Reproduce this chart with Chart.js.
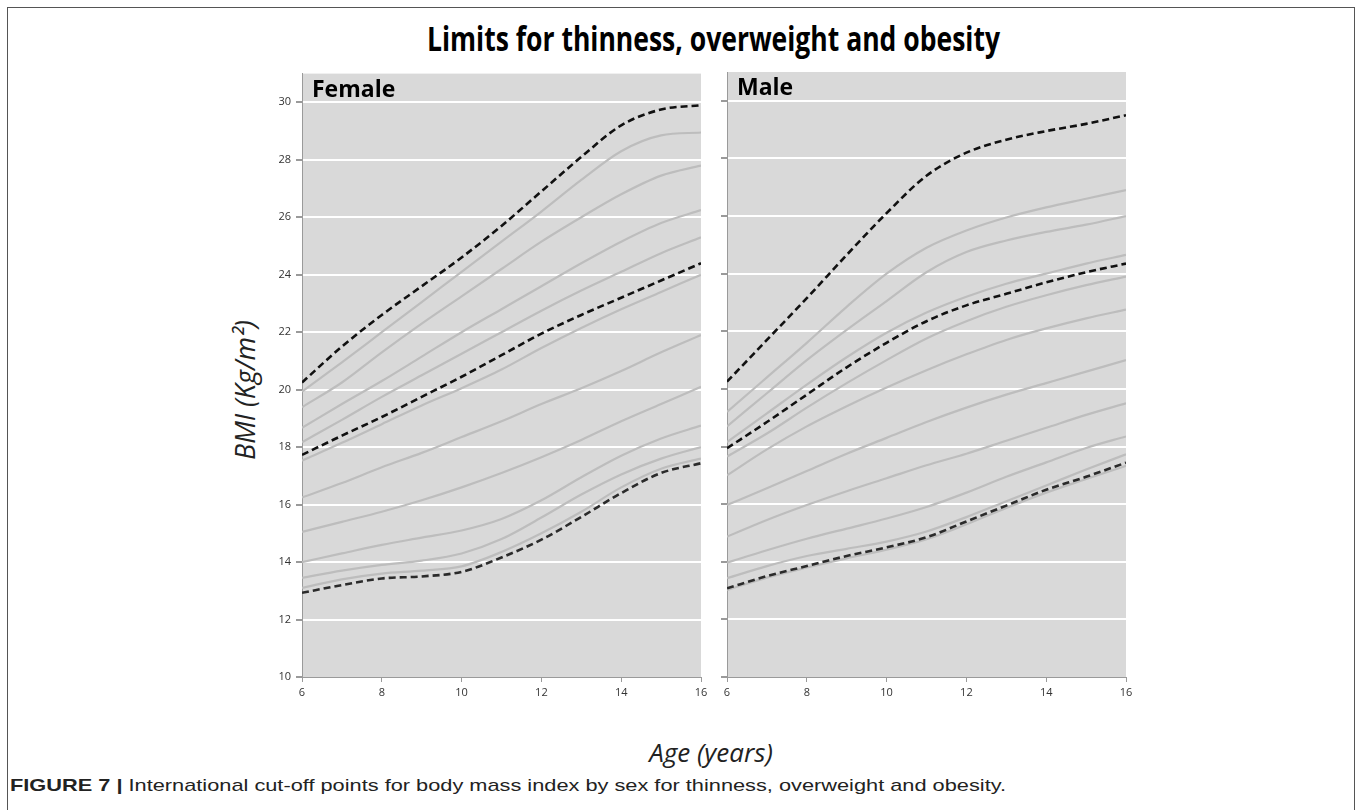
<!DOCTYPE html>
<html>
<head>
<meta charset="utf-8">
<script src="https://cdn.jsdelivr.net/npm/chart.js@4.4.1/dist/chart.umd.min.js"></script>
<style>
  html, body { margin: 0; padding: 0; background: #fff; }
  body { width: 1362px; height: 810px; position: relative; overflow: hidden; font-family: "Open Sans", sans-serif; }
  .frame { position: absolute; left: 7px; top: 7px; width: 1346px; height: 820px; border: 1.5px solid #555; }
  .fit { position: absolute; white-space: nowrap; }
  #title { top: 16px; font-weight: 700; font-size: 34px; line-height: 44px; color: #000; transform-origin: left center; }
  #caption { top: 776px; left: 10px; font-family: "Liberation Sans", Arial, sans-serif; font-size: 17px; line-height: 20px; color: #222; transform-origin: left center; }
  #ytitle { position: absolute; left: 244px; top: 390px; transform: translate(-50%, -50%) rotate(-90deg); font-style: italic; font-size: 27px; color: #222; white-space: nowrap; }
  #xtitle { position: absolute; left: 711px; top: 752px; transform: translate(-50%, -50%); font-style: italic; font-size: 26px; color: #222; white-space: nowrap; }
  canvas { position: absolute; top: 62px; }
  #female { left: 262px; }
  #male { left: 687px; }
</style>
</head>
<body>
<div class="frame"></div>
<div id="title" class="fit">Limits for thinness, overweight and obesity</div>
<div id="ytitle">BMI (Kg/m²)</div>
<canvas id="female" width="450" height="650"></canvas>
<canvas id="male" width="450" height="650"></canvas>
<div id="xtitle">Age (years)</div>
<div id="caption" class="fit"><b>FIGURE 7 |</b> International cut-off points for body mass index by sex for thinness, overweight and obesity.</div>
<script>
const ages = [6, 7, 8, 9, 10, 11, 12, 13, 14, 15, 16];
const xTicks = [6, 8, 10, 12, 14, 16];
const yTicks = [10, 12, 14, 16, 18, 20, 22, 24, 26, 28, 30];

// female: dashed cut-offs
const femaleObesity    = [20.25, 21.5, 22.6, 23.6, 24.6, 25.7, 26.9, 28.1, 29.2, 29.75, 29.9];
const femaleOverweight = [17.73, 18.4, 19.05, 19.75, 20.45, 21.2, 21.95, 22.6, 23.2, 23.8, 24.4];
const femaleThinness   = [12.93, 13.2, 13.43, 13.5, 13.66, 14.16, 14.78, 15.57, 16.4, 17.1, 17.44];
// female: grey curves, top to bottom
const femaleCurve1  = [19.93, 20.95, 22.0, 23.05, 24.1, 25.15, 26.2, 27.3, 28.3, 28.85, 28.95];
const femaleCurve2  = [19.39, 20.25, 21.3, 22.3, 23.25, 24.2, 25.15, 26.0, 26.8, 27.45, 27.8];
const femaleCurve3  = [18.67, 19.5, 20.3, 21.15, 22.0, 22.8, 23.6, 24.4, 25.15, 25.8, 26.25];
const femaleCurve4  = [18.17, 18.95, 19.75, 20.5, 21.25, 22.0, 22.75, 23.45, 24.1, 24.75, 25.3];
const femaleCurve5  = [17.53, 18.15, 18.8, 19.45, 20.05, 20.7, 21.45, 22.15, 22.8, 23.4, 24.0];
const femaleCurve6  = [16.25, 16.75, 17.3, 17.8, 18.35, 18.9, 19.5, 20.05, 20.65, 21.3, 21.9];
const femaleCurve7  = [15.05, 15.4, 15.75, 16.15, 16.6, 17.1, 17.65, 18.25, 18.9, 19.5, 20.1];
const femaleCurve8  = [14.0, 14.3, 14.6, 14.85, 15.1, 15.5, 16.15, 16.95, 17.7, 18.3, 18.75];
const femaleCurve9  = [13.45, 13.7, 13.9, 14.05, 14.3, 14.8, 15.55, 16.35, 17.05, 17.6, 18.0];
const femaleCurve10 = [13.1, 13.4, 13.6, 13.7, 13.85, 14.35, 15.0, 15.75, 16.6, 17.25, 17.6];

// male: dashed cut-offs
const maleObesity    = [20.25, 21.7, 23.15, 24.65, 26.1, 27.4, 28.2, 28.65, 28.95, 29.2, 29.5];
const maleOverweight = [17.94, 18.85, 19.8, 20.75, 21.6, 22.35, 22.9, 23.3, 23.7, 24.05, 24.35];
const maleThinness   = [13.08, 13.5, 13.85, 14.2, 14.5, 14.85, 15.4, 15.95, 16.5, 16.95, 17.44];
// male: grey curves, top to bottom
const maleCurve1  = [19.2, 20.4, 21.6, 22.85, 24.0, 24.9, 25.5, 25.95, 26.3, 26.6, 26.9];
const maleCurve2  = [18.7, 19.85, 21.0, 22.05, 23.05, 24.05, 24.75, 25.15, 25.45, 25.7, 26.0];
const maleCurve3  = [18.15, 19.15, 20.15, 21.1, 21.95, 22.65, 23.2, 23.65, 24.0, 24.35, 24.65];
const maleCurve4  = [17.65, 18.45, 19.35, 20.2, 21.0, 21.75, 22.35, 22.85, 23.25, 23.6, 23.9];
const maleCurve5  = [17.0, 17.9, 18.7, 19.4, 20.05, 20.65, 21.2, 21.7, 22.1, 22.45, 22.75];
const maleCurve6  = [15.97, 16.55, 17.15, 17.75, 18.3, 18.85, 19.35, 19.8, 20.2, 20.6, 21.0];
const maleCurve7  = [14.87, 15.45, 15.97, 16.45, 16.9, 17.35, 17.75, 18.2, 18.65, 19.1, 19.5];
const maleCurve8  = [13.97, 14.4, 14.8, 15.15, 15.5, 15.9, 16.4, 16.95, 17.45, 17.95, 18.35];
const maleCurve9  = [13.43, 13.85, 14.2, 14.45, 14.7, 15.05, 15.55, 16.1, 16.65, 17.2, 17.73];
const maleCurve10 = [13.02, 13.45, 13.8, 14.12, 14.42, 14.78, 15.3, 15.87, 16.4, 16.87, 17.33];

const pts = (arr) => ages.map((a, i) => ({ x: a, y: arr[i] }));

const grey = (arr) => ({
  data: pts(arr),
  borderColor: "#bdbdbd",
  borderWidth: 2.2,
  pointRadius: 0,
  cubicInterpolationMode: "monotone",
  order: 2,
});

const dashed = (arr, col) => ({
  data: pts(arr),
  borderColor: col || "#111",
  borderWidth: 2.6,
  borderDash: [7, 4],
  pointRadius: 0,
  cubicInterpolationMode: "monotone",
  order: 1,
});

// grey plot area + panel name
const panelBg = {
  id: "panelBg",
  beforeDraw(chart) {
    const a = chart.chartArea;
    const ctx = chart.ctx;
    ctx.save();
    ctx.fillStyle = "#d9d9d9";
    ctx.fillRect(a.left, a.top, a.right - a.left, a.bottom - a.top);
    ctx.restore();
  },
  afterDraw(chart, args, opts) {
    const a = chart.chartArea;
    const ctx = chart.ctx;
    ctx.save();
    ctx.fillStyle = "#000";
    ctx.font = "bold 23px 'Open Sans', sans-serif";
    ctx.textBaseline = "alphabetic";
    ctx.fillText(opts.text, a.left + 10, a.top + 23);
    ctx.restore();
  },
};

function makePanel(id, name, datasets, showLabels) {
  return new Chart(document.getElementById(id), {
    type: "line",
    data: { datasets },
    plugins: [panelBg],
    options: {
      responsive: false,
      animation: false,
      events: [],
      layout: { padding: { left: 0, right: 11, top: 10, bottom: 0 } },
      plugins: {
        legend: { display: false },
        tooltip: { enabled: false },
        panelBg: { text: name },
      },
      scales: {
        x: {
          type: "linear",
          min: 6,
          max: 16,
          afterFit: (s) => { s.height = 35; },
          afterBuildTicks: (s) => { s.ticks = xTicks.map((v) => ({ value: v })); },
          grid: { drawOnChartArea: false, drawTicks: true, tickLength: 5, tickColor: "#9a9a9a" },
          border: { color: "#9a9a9a", width: 1 },
          ticks: { color: "#333", padding: 4, font: { family: "'Open Sans', sans-serif", size: 11 }, maxRotation: 0 },
        },
        y: {
          min: 10,
          max: 31,
          afterFit: (s) => { s.width = 40; },
          afterBuildTicks: (s) => { s.ticks = yTicks.map((v) => ({ value: v })); },
          grid: {
            color: (c) => (c.tick && c.tick.value === 10 ? "rgba(0,0,0,0)" : "#ffffff"),
            lineWidth: 2,
            drawTicks: true,
            tickLength: 6,
            tickColor: "#9a9a9a",
          },
          border: { color: "#9a9a9a", width: 1 },
          ticks: { display: showLabels, color: "#333", padding: 5, font: { family: "'Open Sans', sans-serif", size: 11 } },
        },
      },
    },
  });
}

makePanel("female", "Female", [
  dashed(femaleObesity),
  dashed(femaleOverweight),
  dashed(femaleThinness, "#2b2b2b"),
  grey(femaleCurve1), grey(femaleCurve2), grey(femaleCurve3), grey(femaleCurve4), grey(femaleCurve5),
  grey(femaleCurve6), grey(femaleCurve7), grey(femaleCurve8), grey(femaleCurve9), grey(femaleCurve10),
], true);

makePanel("male", "Male", [
  dashed(maleObesity),
  dashed(maleOverweight),
  dashed(maleThinness, "#2b2b2b"),
  grey(maleCurve1), grey(maleCurve2), grey(maleCurve3), grey(maleCurve4), grey(maleCurve5),
  grey(maleCurve6), grey(maleCurve7), grey(maleCurve8), grey(maleCurve9), grey(maleCurve10),
], false);

// squeeze title and caption to the widths in the figure
function fitText(id, left, width) {
  const el = document.getElementById(id);
  el.style.transform = "none";
  const w = el.getBoundingClientRect().width;
  el.style.left = left + "px";
  el.style.transform = "scaleX(" + (width / w) + ")";
}
function fitAll() {
  fitText("title", 427, 573);
  fitText("caption", 10, 996);
}
fitAll();
if (document.fonts) document.fonts.ready.then(fitAll);
</script>
</body>
</html>
